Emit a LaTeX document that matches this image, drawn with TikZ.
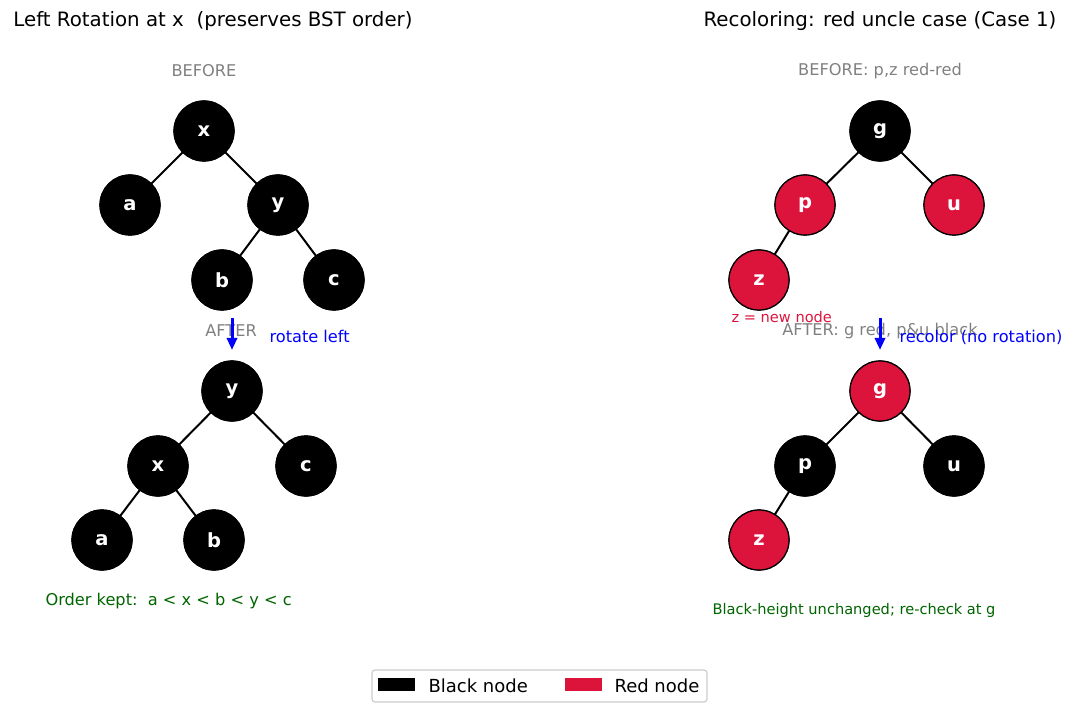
\documentclass[tikz,border=0pt]{standalone}
\usepackage{fontspec}
\setmainfont{DejaVu Sans}
\usetikzlibrary{arrows.meta}
\definecolor{crim}{HTML}{DC143C}
\definecolor{dgreen}{HTML}{006400}
\definecolor{lgray}{HTML}{808080}
\tikzset{
  bn/.style={circle,fill=black,draw=black,line width=1.2pt,minimum size=60pt,inner sep=0pt,text=white,font=\fontsize{19.5}{22}\selectfont\bfseries},
  rn/.style={bn,fill=crim},
  edge/.style={line width=2pt,black},
  ttl/.style={font=\fontsize{19.8}{23}\selectfont,text=black},
  lbl/.style={font=\fontsize{16.2}{19}\selectfont,text=lgray},
  act/.style={font=\fontsize{16.2}{19}\selectfont,text=blue,anchor=west},
  arr/.style={blue,line width=3pt,-{Triangle[length=12pt,width=10pt]}},
}
\begin{document}
\begin{tikzpicture}[x=1pt,y=-1pt]
\useasboundingbox (0,0) rectangle (1079,711);
% titles
\node[ttl] (t1) at (213,21) {Left Rotation at x\ \ (preserves BST order)};
\node[ttl] (t2) at (880,21) {Recoloring: red uncle case (Case 1)};
% left before
\node[lbl] (lb) at (204,71) {BEFORE};
\node[bn] (Ax) at (204,131) {x};
\node[bn] (Aa) at (130,205) {a};
\node[bn] (Ay) at (278,205) {y};
\node[bn] (Ab) at (222,280) {b};
\node[bn] (Ac) at (334,280) {c};
% right before
\node[lbl] (rb) at (880,71) {BEFORE: p,z red-red};
\node[bn] (Bg) at (880,131) {g};
\node[rn] (Bp) at (805,205) {p};
\node[rn] (Bu) at (954,205) {u};
\node[rn] (Bz) at (759,280) {z};
\node[font=\fontsize{14.6}{17}\selectfont,text=crim,anchor=west] (zn) at (728,317) {z = new node};
% left after
\node[bn] (Cy) at (232,391) {y};
\node[bn] (Cx) at (158,466) {x};
\node[bn] (Cc) at (306,466) {c};
\node[bn] (Ca) at (102,540) {a};
\node[bn] (Cb) at (214,540) {b};
% right after
\node[rn] (Dg) at (880,391) {g};
\node[bn] (Dp) at (805,466) {p};
\node[bn] (Du) at (954,466) {u};
\node[rn] (Dz) at (759,540) {z};
% edges
\draw[edge] (Ax.center) -- (Aa.center) (Ax.center) -- (Ay.center) (Ay.center) -- (Ab.center) (Ay.center) -- (Ac.center);
\draw[edge] (Bg.center) -- (Bp.center) (Bg.center) -- (Bu.center) (Bp.center) -- (Bz.center);
\draw[edge] (Cy.center) -- (Cx.center) (Cy.center) -- (Cc.center) (Cx.center) -- (Ca.center) (Cx.center) -- (Cb.center);
\draw[edge] (Dg.center) -- (Dp.center) (Dg.center) -- (Du.center) (Dp.center) -- (Dz.center);
% redraw nodes on top of edges
\node[bn] at (Ax) {x};
\node[bn] at (Aa) {a};
\node[bn] at (Ay) {y};
\node[bn] at (Ab) {b};
\node[bn] at (Ac) {c};
\node[bn] at (Bg) {g};
\node[rn] at (Bp) {p};
\node[rn] at (Bu) {u};
\node[rn] at (Bz) {z};
\node[bn] at (Cy) {y};
\node[bn] at (Cx) {x};
\node[bn] at (Cc) {c};
\node[bn] at (Ca) {a};
\node[bn] at (Cb) {b};
\node[rn] at (Dg) {g};
\node[bn] at (Dp) {p};
\node[bn] at (Du) {u};
\node[rn] at (Dz) {z};
% after labels
\node[lbl] (la) at (231,331) {AFTER};
\node[lbl] (ra) at (880,331) {AFTER: g red, p\&u black};
% arrows
\coordinate (a1s) at (232,318);
\coordinate (a1e) at (232,350);
\coordinate (a2s) at (880,318);
\coordinate (a2e) at (880,350);
\draw[arr] (a1s) -- (a1e);
\draw[arr] (a2s) -- (a2e);
\node[act] (rl) at (266,336) {rotate left};
\node[act] (rc) at (896,337) {recolor (no rotation)};
% bottom notes
\node[font=\fontsize{16.2}{19}\selectfont,text=dgreen,anchor=west] (ok) at (42,601) {Order kept:\ \ a < x < b < y < c};
\node[font=\fontsize{14.6}{17}\selectfont,text=dgreen,anchor=west] (bh) at (709,610) {Black-height unchanged; re-check at g};
% legend
\draw[draw=black!20,fill=white,line width=1.2pt,rounded corners=3pt] (372,670) rectangle (707,702);
\fill[black] (378,678) rectangle (415,691);
\node[font=\fontsize{18}{21}\selectfont,anchor=west] (lk) at (425,686) {Black node};
\fill[crim] (565,678) rectangle (602,691);
\node[font=\fontsize{18}{21}\selectfont,anchor=west] (lr) at (611,686) {Red node};
\end{tikzpicture}
\end{document}
